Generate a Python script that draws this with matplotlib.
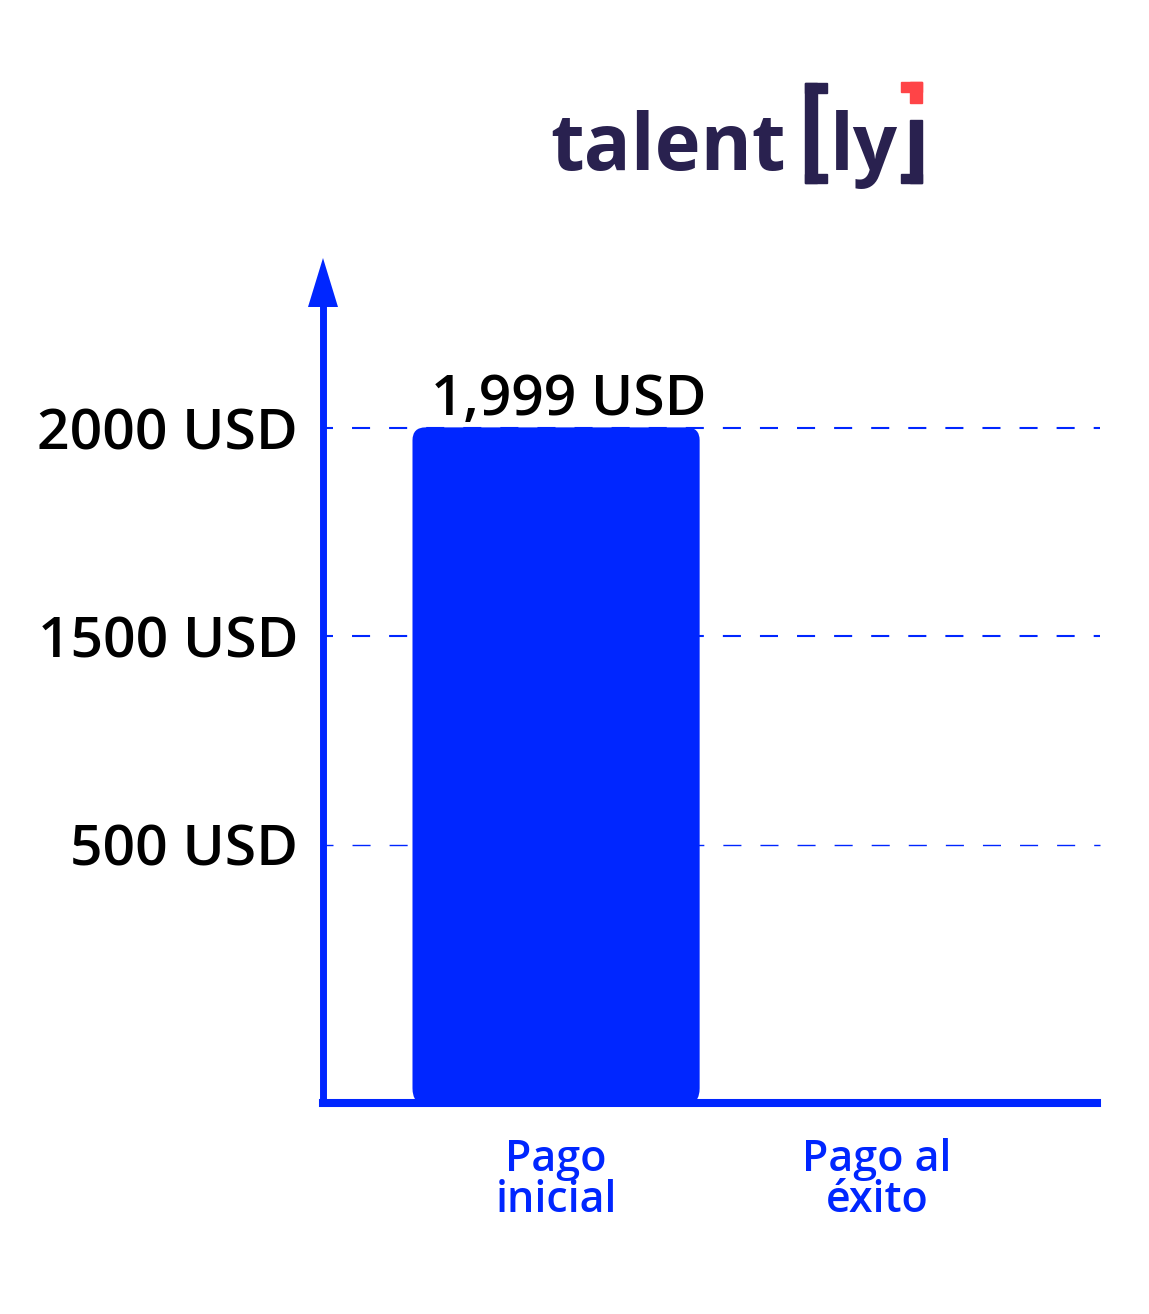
import matplotlib.pyplot as plt
from matplotlib.patches import FancyBboxPatch, Polygon, Rectangle
import numpy as np

# data
categories = ["Pago\ninicial", "Pago al\néxito"]
values = [1999, 0]
value_labels = ["1,999 USD", ""]
tick_values = [500, 1500, 2000]
tick_labels = ["500 USD", "1500 USD", "2000 USD"]

BLUE = "#0026FF"
NAVY = "#29214F"
RED = "#FF4447"
FONT = "Open Sans"

plt.rcParams['font.family'] = [FONT, 'DejaVu Sans']
plt.rcParams['lines.scale_dashes'] = False

# the infographic spaces its ticks unevenly: piecewise linear scale
scale_vals = [0, 500, 1500, 2000, 3000]
scale_px = [0, 258, 467, 675, 1091]

def fwd(v):
    return np.interp(v, scale_vals, scale_px)

def inv(p):
    return np.interp(p, scale_px, scale_vals)

W, H = 1149, 1314
fig = plt.figure(figsize=(W / 100, H / 100), dpi=100)

# overlay in pixel coordinates for logo and arrow head
over = fig.add_axes([0, 0, 1, 1])
over.set_xlim(0, W)
over.set_ylim(H, 0)
over.axis('off')

ax_l, ax_r, ax_b, ax_t = 323, 1097, 1103, 306
ax = fig.add_axes([ax_l / W, (H - ax_b) / H, (ax_r - ax_l) / W, (ax_b - ax_t) / H])
ax.set_facecolor('none')
ax.set_yscale('function', functions=(fwd, inv))
ax.set_ylim(0, inv(ax_b - ax_t))
ax.set_xlim(-0.726, 1.685)

for s in ['top', 'right']:
    ax.spines[s].set_visible(False)
ax.spines['left'].set_linewidth(5)
ax.spines['left'].set_color(BLUE)
ax.spines['left'].set_capstyle('projecting')
ax.spines['bottom'].set_linewidth(5.8)
ax.spines['bottom'].set_color(BLUE)
ax.spines['bottom'].set_zorder(5)

# dashed grid lines
for tv in tick_values:
    lw = 1.0 if tv == 500 else 1.5
    ax.axhline(tv, xmax=1.004, color=BLUE, lw=lw, linestyle=(5.8, (13, 13.7)),
               zorder=1, clip_on=False)

ax.set_yticks(tick_values)
ax.set_yticklabels(tick_labels, fontsize=41, fontweight='semibold', color='black')
ax.tick_params(axis='y', length=0, pad=18)
x = np.arange(len(categories))
ax.set_xticks(x)
ax.set_xticklabels(categories, fontsize=31, fontweight='semibold', color=BLUE,
                   linespacing=0.95)
ax.tick_params(axis='x', length=0, pad=25)

# bars with rounded corners
bars = ax.bar(x, values, width=0.888, color=BLUE, zorder=3)
for rect in bars:
    rect.set_visible(False)
    if rect.get_height() <= 0:
        continue
    fb = FancyBboxPatch((rect.get_x(), rect.get_y()), rect.get_width(), rect.get_height(),
                        boxstyle="round,pad=0,rounding_size=0.037",
                        mutation_aspect=770, facecolor=BLUE, edgecolor=BLUE,
                        lw=1.5, zorder=3)
    ax.add_patch(fb)

for xi, v, lab in zip(x, values, value_labels):
    if lab:
        ax.annotate(lab, (xi, v), xytext=(9, 10), textcoords='offset points',
                    ha='center', va='baseline', fontsize=41, fontweight='semibold',
                    color='black')

# arrow head on y axis
over.add_patch(Polygon([(308, 307), (338, 307), (323, 258)], closed=True,
                       facecolor=BLUE, edgecolor='none'))

# logo
over.text(550, 170, "talent", fontsize=56, fontweight='bold', color=NAVY,
          ha='left', va='baseline')
over.text(830, 170, "ly", fontsize=56, fontweight='bold', color=NAVY,
          ha='left', va='baseline')
over.add_patch(Rectangle((805, 83), 12, 100, color=NAVY))
over.add_patch(Rectangle((805, 83), 22, 10, color=NAVY))
over.add_patch(Rectangle((805, 174), 22, 9, color=NAVY))
over.add_patch(Rectangle((901, 82), 21, 10, color=RED))
over.add_patch(Rectangle((910, 82), 12, 21, color=RED))
over.add_patch(Rectangle((910, 120), 12, 63, color=NAVY))
over.add_patch(Rectangle((901, 174), 21, 9, color=NAVY))

fig.savefig("out.png", dpi=100)
